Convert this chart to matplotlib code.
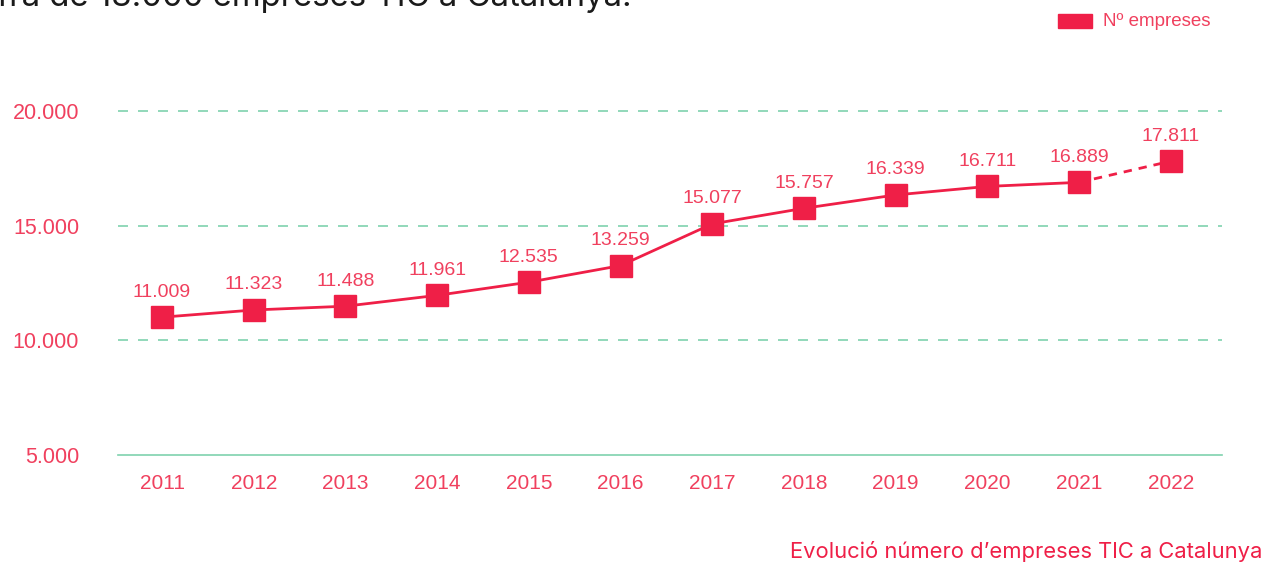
import matplotlib.pyplot as plt

years = ["2011", "2012", "2013", "2014", "2015", "2016", "2017", "2018", "2019", "2020", "2021", "2022"]
companies = [11009, 11323, 11488, 11961, 12535, 13259, 15077, 15757, 16339, 16711, 16889, 17811]
y_ticks = [5000, 10000, 15000, 20000]

RED = "#EF1F47"
LABEL_RED = "#F0405E"
GREEN = "#7FD2AE"


def fmt(v):
    return f"{v:,}".replace(",", ".")


def main():
    fig = plt.figure(figsize=(12.77, 5.62), dpi=100)
    ax = fig.add_axes([0.0924, 0.1904, 0.8646, 0.6121])

    x = list(range(len(years)))
    # gridlines: dashed, with the bottom one solid
    for t in y_ticks:
        ax.axhline(t, color=GREEN, lw=1.2, ls="-" if t == y_ticks[0] else (0, (6, 6)), zorder=1, clip_on=False)

    # solid line up to 2021, dashed for the 2022 estimate
    ax.plot(x[:-1], companies[:-1], color=RED, lw=2.0, zorder=2)
    ax.plot(x[-2:], companies[-2:], color=RED, lw=2.0, ls=(0, (3, 2.5)), zorder=2)
    ax.plot(x, companies, ls="none", marker="s", ms=15.5, color=RED, zorder=3, clip_on=False)

    for xi, v in zip(x, companies):
        ax.annotate(fmt(v), (xi, v), xytext=(0, 12), textcoords="offset points",
                    ha="center", va="bottom", fontsize=14, color=LABEL_RED,
                    family="Liberation Sans")

    ax.set_xlim(-0.48, 11.56)
    ax.set_ylim(5000, 20000)
    ax.set_xticks(x)
    ax.set_xticklabels(years)
    ax.set_yticks(y_ticks)
    ax.set_yticklabels([fmt(t) for t in y_ticks])
    ax.tick_params(length=0, colors=LABEL_RED)
    ax.tick_params(axis="x", pad=14, labelsize=15)
    ax.tick_params(axis="y", pad=28, labelsize=15.5)
    for lab in ax.get_xticklabels() + ax.get_yticklabels():
        lab.set_family("Liberation Sans")
    for s in ax.spines.values():
        s.set_visible(False)

    # legend
    fig.patches.append(plt.Rectangle((1058 / 1277, 1 - 28 / 562), 34 / 1277, 14 / 562,
                                     transform=fig.transFigure, color=RED))
    fig.text(1103 / 1277, 1 - 21 / 562, "Nº empreses", ha="left", va="center",
             fontsize=13.5, color=LABEL_RED, family="Liberation Sans")

    # cut-off headline from the page above
    fig.text(632 / 1277, 1 - 6 / 562, "xifra de 18.000 empreses TIC a Catalunya.", ha="right",
             va="baseline", fontsize=23.7, color="#1a1a1a", family="Inter")

    fig.text(1262 / 1277, 1 - 551 / 562, "Evolució número d’empreses TIC a Catalunya",
             ha="right", va="center", fontsize=15.8, color=RED, family="Inter")

    fig.savefig("out.png", dpi=100)


if __name__ == "__main__":
    main()
